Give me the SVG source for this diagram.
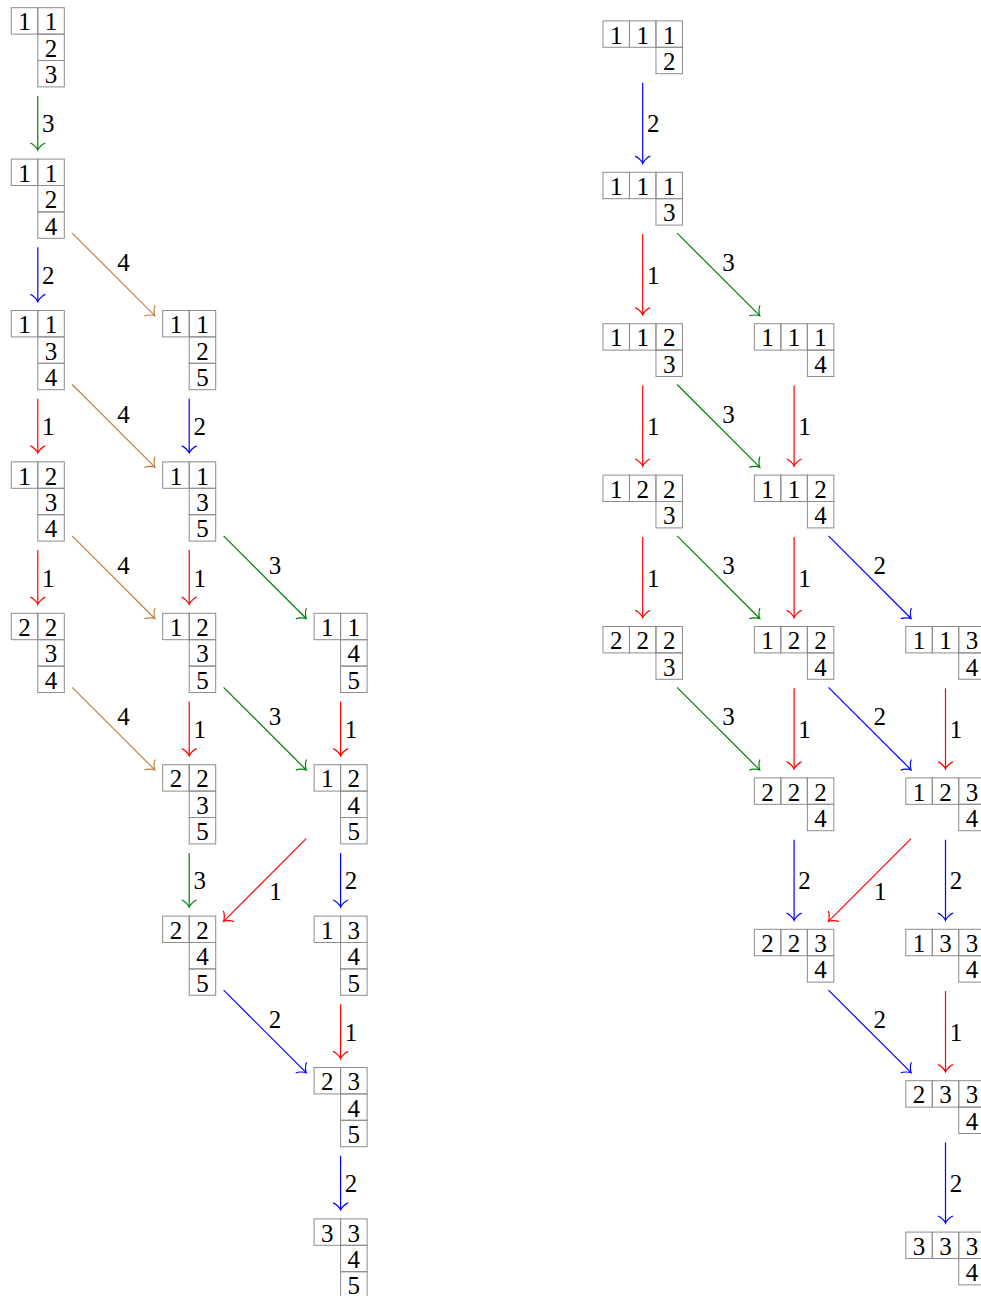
<svg xmlns="http://www.w3.org/2000/svg" xmlns:xlink="http://www.w3.org/1999/xlink" width="981" height="1296" viewBox="0 0 981 1296">
  <style>
    .cell { fill: none; stroke: #8c8c8c; stroke-width: 1; }
    .t { font-family: "Liberation Serif", "DejaVu Serif", serif; font-size: 25px; text-anchor: middle; fill: #000; }
    .e { fill: none; stroke-width: 1.2; }
    .g { stroke: #008000; }
    .b { stroke: #0000ff; }
    .r { stroke: #ff0000; }
    .o { stroke: #bf8040; }
    .g { marker-end: url(#ag); }
    .b { marker-end: url(#ab); }
    .r { marker-end: url(#ar); }
    .o { marker-end: url(#ao); }
  </style>
  <defs>
    <!-- 2 cells on top, then a column of two cells under the right one -->
    <g id="frameL">
      <rect class="cell" x="-26.5" y="-39.6" width="26.5" height="26.4"/>
      <rect class="cell" x="0" y="-39.6" width="26.5" height="26.4"/>
      <rect class="cell" x="0" y="-13.2" width="26.5" height="26.4"/>
      <rect class="cell" x="0" y="13.2" width="26.5" height="26.4"/>
    </g>
    <!-- 3 cells on top, one cell under the rightmost -->
    <g id="frameR">
      <rect class="cell" x="-39.75" y="-26.4" width="26.5" height="26.4"/>
      <rect class="cell" x="-13.25" y="-26.4" width="26.5" height="26.4"/>
      <rect class="cell" x="13.25" y="-26.4" width="26.5" height="26.4"/>
      <rect class="cell" x="13.25" y="0" width="26.5" height="26.4"/>
    </g>
    <marker id="ag" markerUnits="userSpaceOnUse" orient="auto" overflow="visible" markerWidth="1" markerHeight="1" refX="0" refY="0">
      <path d="M-7.1,-7.6 C-6.65,-4.75 -1.43,-0.48 0,0 C-1.43,0.48 -6.65,4.75 -7.1,7.6" fill="none" stroke="#008000" stroke-width="1.2"/>
    </marker>
    <marker id="ab" markerUnits="userSpaceOnUse" orient="auto" overflow="visible" markerWidth="1" markerHeight="1" refX="0" refY="0">
      <path d="M-7.1,-7.6 C-6.65,-4.75 -1.43,-0.48 0,0 C-1.43,0.48 -6.65,4.75 -7.1,7.6" fill="none" stroke="#0000ff" stroke-width="1.2"/>
    </marker>
    <marker id="ar" markerUnits="userSpaceOnUse" orient="auto" overflow="visible" markerWidth="1" markerHeight="1" refX="0" refY="0">
      <path d="M-7.1,-7.6 C-6.65,-4.75 -1.43,-0.48 0,0 C-1.43,0.48 -6.65,4.75 -7.1,7.6" fill="none" stroke="#ff0000" stroke-width="1.2"/>
    </marker>
    <marker id="ao" markerUnits="userSpaceOnUse" orient="auto" overflow="visible" markerWidth="1" markerHeight="1" refX="0" refY="0">
      <path d="M-7.1,-7.6 C-6.65,-4.75 -1.43,-0.48 0,0 C-1.43,0.48 -6.65,4.75 -7.1,7.6" fill="none" stroke="#bf8040" stroke-width="1.2"/>
    </marker>
  </defs>
  <rect width="981" height="1296" fill="#fff"/>

  <!-- Left lattice: tableaux of shape (2,2,2)/(1,1) -->
  <g id="L-0-0" transform="translate(37.8,47.3)"><use xlink:href="#frameL"/>
    <text class="t" x="-13.25" y="-16.9">1</text><text class="t" x="13.25" y="-16.9">1</text><text class="t" x="13.25" y="9.5">2</text><text class="t" x="13.25" y="35.9">3</text></g>
  <g id="L-0-1" transform="translate(37.8,198.7)"><use xlink:href="#frameL"/>
    <text class="t" x="-13.25" y="-16.9">1</text><text class="t" x="13.25" y="-16.9">1</text><text class="t" x="13.25" y="9.5">2</text><text class="t" x="13.25" y="35.9">4</text></g>
  <g id="L-0-2" transform="translate(37.8,350.1)"><use xlink:href="#frameL"/>
    <text class="t" x="-13.25" y="-16.9">1</text><text class="t" x="13.25" y="-16.9">1</text><text class="t" x="13.25" y="9.5">3</text><text class="t" x="13.25" y="35.9">4</text></g>
  <g id="L-1-2" transform="translate(189.2,350.1)"><use xlink:href="#frameL"/>
    <text class="t" x="-13.25" y="-16.9">1</text><text class="t" x="13.25" y="-16.9">1</text><text class="t" x="13.25" y="9.5">2</text><text class="t" x="13.25" y="35.9">5</text></g>
  <g id="L-0-3" transform="translate(37.8,501.5)"><use xlink:href="#frameL"/>
    <text class="t" x="-13.25" y="-16.9">1</text><text class="t" x="13.25" y="-16.9">2</text><text class="t" x="13.25" y="9.5">3</text><text class="t" x="13.25" y="35.9">4</text></g>
  <g id="L-1-3" transform="translate(189.2,501.5)"><use xlink:href="#frameL"/>
    <text class="t" x="-13.25" y="-16.9">1</text><text class="t" x="13.25" y="-16.9">1</text><text class="t" x="13.25" y="9.5">3</text><text class="t" x="13.25" y="35.9">5</text></g>
  <g id="L-0-4" transform="translate(37.8,652.9)"><use xlink:href="#frameL"/>
    <text class="t" x="-13.25" y="-16.9">2</text><text class="t" x="13.25" y="-16.9">2</text><text class="t" x="13.25" y="9.5">3</text><text class="t" x="13.25" y="35.9">4</text></g>
  <g id="L-1-4" transform="translate(189.2,652.9)"><use xlink:href="#frameL"/>
    <text class="t" x="-13.25" y="-16.9">1</text><text class="t" x="13.25" y="-16.9">2</text><text class="t" x="13.25" y="9.5">3</text><text class="t" x="13.25" y="35.9">5</text></g>
  <g id="L-2-4" transform="translate(340.6,652.9)"><use xlink:href="#frameL"/>
    <text class="t" x="-13.25" y="-16.9">1</text><text class="t" x="13.25" y="-16.9">1</text><text class="t" x="13.25" y="9.5">4</text><text class="t" x="13.25" y="35.9">5</text></g>
  <g id="L-1-5" transform="translate(189.2,804.3)"><use xlink:href="#frameL"/>
    <text class="t" x="-13.25" y="-16.9">2</text><text class="t" x="13.25" y="-16.9">2</text><text class="t" x="13.25" y="9.5">3</text><text class="t" x="13.25" y="35.9">5</text></g>
  <g id="L-2-5" transform="translate(340.6,804.3)"><use xlink:href="#frameL"/>
    <text class="t" x="-13.25" y="-16.9">1</text><text class="t" x="13.25" y="-16.9">2</text><text class="t" x="13.25" y="9.5">4</text><text class="t" x="13.25" y="35.9">5</text></g>
  <g id="L-1-6" transform="translate(189.2,955.7)"><use xlink:href="#frameL"/>
    <text class="t" x="-13.25" y="-16.9">2</text><text class="t" x="13.25" y="-16.9">2</text><text class="t" x="13.25" y="9.5">4</text><text class="t" x="13.25" y="35.9">5</text></g>
  <g id="L-2-6" transform="translate(340.6,955.7)"><use xlink:href="#frameL"/>
    <text class="t" x="-13.25" y="-16.9">1</text><text class="t" x="13.25" y="-16.9">3</text><text class="t" x="13.25" y="9.5">4</text><text class="t" x="13.25" y="35.9">5</text></g>
  <g id="L-2-7" transform="translate(340.6,1107.1)"><use xlink:href="#frameL"/>
    <text class="t" x="-13.25" y="-16.9">2</text><text class="t" x="13.25" y="-16.9">3</text><text class="t" x="13.25" y="9.5">4</text><text class="t" x="13.25" y="35.9">5</text></g>
  <g id="L-2-8" transform="translate(340.6,1258.5)"><use xlink:href="#frameL"/>
    <text class="t" x="-13.25" y="-16.9">3</text><text class="t" x="13.25" y="-16.9">3</text><text class="t" x="13.25" y="9.5">4</text><text class="t" x="13.25" y="35.9">5</text></g>

  <!-- Right lattice: tableaux of shape (3,3)/(2) -->
  <g id="R-0-0" transform="translate(642.7,47.3)"><use xlink:href="#frameR"/>
    <text class="t" x="-26.5" y="-3.7">1</text><text class="t" x="0" y="-3.7">1</text><text class="t" x="26.5" y="-3.7">1</text><text class="t" x="26.5" y="22.7">2</text></g>
  <g id="R-0-1" transform="translate(642.7,198.7)"><use xlink:href="#frameR"/>
    <text class="t" x="-26.5" y="-3.7">1</text><text class="t" x="0" y="-3.7">1</text><text class="t" x="26.5" y="-3.7">1</text><text class="t" x="26.5" y="22.7">3</text></g>
  <g id="R-0-2" transform="translate(642.7,350.1)"><use xlink:href="#frameR"/>
    <text class="t" x="-26.5" y="-3.7">1</text><text class="t" x="0" y="-3.7">1</text><text class="t" x="26.5" y="-3.7">2</text><text class="t" x="26.5" y="22.7">3</text></g>
  <g id="R-1-2" transform="translate(794.1,350.1)"><use xlink:href="#frameR"/>
    <text class="t" x="-26.5" y="-3.7">1</text><text class="t" x="0" y="-3.7">1</text><text class="t" x="26.5" y="-3.7">1</text><text class="t" x="26.5" y="22.7">4</text></g>
  <g id="R-0-3" transform="translate(642.7,501.5)"><use xlink:href="#frameR"/>
    <text class="t" x="-26.5" y="-3.7">1</text><text class="t" x="0" y="-3.7">2</text><text class="t" x="26.5" y="-3.7">2</text><text class="t" x="26.5" y="22.7">3</text></g>
  <g id="R-1-3" transform="translate(794.1,501.5)"><use xlink:href="#frameR"/>
    <text class="t" x="-26.5" y="-3.7">1</text><text class="t" x="0" y="-3.7">1</text><text class="t" x="26.5" y="-3.7">2</text><text class="t" x="26.5" y="22.7">4</text></g>
  <g id="R-0-4" transform="translate(642.7,652.9)"><use xlink:href="#frameR"/>
    <text class="t" x="-26.5" y="-3.7">2</text><text class="t" x="0" y="-3.7">2</text><text class="t" x="26.5" y="-3.7">2</text><text class="t" x="26.5" y="22.7">3</text></g>
  <g id="R-1-4" transform="translate(794.1,652.9)"><use xlink:href="#frameR"/>
    <text class="t" x="-26.5" y="-3.7">1</text><text class="t" x="0" y="-3.7">2</text><text class="t" x="26.5" y="-3.7">2</text><text class="t" x="26.5" y="22.7">4</text></g>
  <g id="R-2-4" transform="translate(945.5,652.9)"><use xlink:href="#frameR"/>
    <text class="t" x="-26.5" y="-3.7">1</text><text class="t" x="0" y="-3.7">1</text><text class="t" x="26.5" y="-3.7">3</text><text class="t" x="26.5" y="22.7">4</text></g>
  <g id="R-1-5" transform="translate(794.1,804.3)"><use xlink:href="#frameR"/>
    <text class="t" x="-26.5" y="-3.7">2</text><text class="t" x="0" y="-3.7">2</text><text class="t" x="26.5" y="-3.7">2</text><text class="t" x="26.5" y="22.7">4</text></g>
  <g id="R-2-5" transform="translate(945.5,804.3)"><use xlink:href="#frameR"/>
    <text class="t" x="-26.5" y="-3.7">1</text><text class="t" x="0" y="-3.7">2</text><text class="t" x="26.5" y="-3.7">3</text><text class="t" x="26.5" y="22.7">4</text></g>
  <g id="R-1-6" transform="translate(794.1,955.7)"><use xlink:href="#frameR"/>
    <text class="t" x="-26.5" y="-3.7">2</text><text class="t" x="0" y="-3.7">2</text><text class="t" x="26.5" y="-3.7">3</text><text class="t" x="26.5" y="22.7">4</text></g>
  <g id="R-2-6" transform="translate(945.5,955.7)"><use xlink:href="#frameR"/>
    <text class="t" x="-26.5" y="-3.7">1</text><text class="t" x="0" y="-3.7">3</text><text class="t" x="26.5" y="-3.7">3</text><text class="t" x="26.5" y="22.7">4</text></g>
  <g id="R-2-7" transform="translate(945.5,1107.1)"><use xlink:href="#frameR"/>
    <text class="t" x="-26.5" y="-3.7">2</text><text class="t" x="0" y="-3.7">3</text><text class="t" x="26.5" y="-3.7">3</text><text class="t" x="26.5" y="22.7">4</text></g>
  <g id="R-2-8" transform="translate(945.5,1258.5)"><use xlink:href="#frameR"/>
    <text class="t" x="-26.5" y="-3.7">3</text><text class="t" x="0" y="-3.7">3</text><text class="t" x="26.5" y="-3.7">3</text><text class="t" x="26.5" y="22.7">4</text></g>

  <!-- Connectors with their labels -->
  <g id="connectors">
    <!-- left lattice -->
    <line class="e g" x1="37.8" y1="95.9" x2="37.8" y2="150.1"/><text class="t" x="48.3" y="132.3">3</text>
    <line class="e b" x1="37.8" y1="247.3" x2="37.8" y2="301.5"/><text class="t" x="48.3" y="283.7">2</text>
    <line class="e o" x1="72.2" y1="233.1" x2="154.8" y2="315.7"/><text class="t" x="123.5" y="271.2">4</text>
    <line class="e r" x1="37.8" y1="398.7" x2="37.8" y2="452.9"/><text class="t" x="48.3" y="435.1">1</text>
    <line class="e o" x1="72.2" y1="384.5" x2="154.8" y2="467.1"/><text class="t" x="123.5" y="422.6">4</text>
    <line class="e b" x1="189.2" y1="398.7" x2="189.2" y2="452.9"/><text class="t" x="199.7" y="435.1">2</text>
    <line class="e r" x1="37.8" y1="550.1" x2="37.8" y2="604.3"/><text class="t" x="48.3" y="586.5">1</text>
    <line class="e o" x1="72.2" y1="535.9" x2="154.8" y2="618.5"/><text class="t" x="123.5" y="574">4</text>
    <line class="e r" x1="189.2" y1="550.1" x2="189.2" y2="604.3"/><text class="t" x="199.7" y="586.5">1</text>
    <line class="e g" x1="223.6" y1="535.9" x2="306.2" y2="618.5"/><text class="t" x="274.9" y="574">3</text>
    <line class="e o" x1="72.2" y1="687.3" x2="154.8" y2="769.9"/><text class="t" x="123.5" y="725.4">4</text>
    <line class="e r" x1="189.2" y1="701.5" x2="189.2" y2="755.7"/><text class="t" x="199.7" y="737.9">1</text>
    <line class="e g" x1="223.6" y1="687.3" x2="306.2" y2="769.9"/><text class="t" x="274.9" y="725.4">3</text>
    <line class="e r" x1="340.6" y1="701.5" x2="340.6" y2="755.7"/><text class="t" x="351.1" y="737.9">1</text>
    <line class="e g" x1="189.2" y1="852.9" x2="189.2" y2="907.1"/><text class="t" x="199.7" y="889.3">3</text>
    <line class="e r" x1="306.2" y1="838.7" x2="223.6" y2="921.3"/><text class="t" x="275.4" y="899.8">1</text>
    <line class="e b" x1="340.6" y1="852.9" x2="340.6" y2="907.1"/><text class="t" x="351.1" y="889.3">2</text>
    <line class="e b" x1="223.6" y1="990.1" x2="306.2" y2="1072.7"/><text class="t" x="274.9" y="1028.2">2</text>
    <line class="e r" x1="340.6" y1="1004.3" x2="340.6" y2="1058.5"/><text class="t" x="351.1" y="1040.7">1</text>
    <line class="e b" x1="340.6" y1="1155.7" x2="340.6" y2="1209.9"/><text class="t" x="351.1" y="1192.1">2</text>
    <!-- right lattice -->
    <line class="e b" x1="642.7" y1="82.7" x2="642.7" y2="163.3"/><text class="t" x="653.2" y="132.3">2</text>
    <line class="e r" x1="642.7" y1="234.1" x2="642.7" y2="314.7"/><text class="t" x="653.2" y="283.7">1</text>
    <line class="e g" x1="677.1" y1="233.1" x2="759.7" y2="315.7"/><text class="t" x="728.4" y="271.2">3</text>
    <line class="e r" x1="642.7" y1="385.5" x2="642.7" y2="466.1"/><text class="t" x="653.2" y="435.1">1</text>
    <line class="e g" x1="677.1" y1="384.5" x2="759.7" y2="467.1"/><text class="t" x="728.4" y="422.6">3</text>
    <line class="e r" x1="794.1" y1="385.5" x2="794.1" y2="466.1"/><text class="t" x="804.6" y="435.1">1</text>
    <line class="e r" x1="642.7" y1="536.9" x2="642.7" y2="617.5"/><text class="t" x="653.2" y="586.5">1</text>
    <line class="e g" x1="677.1" y1="535.9" x2="759.7" y2="618.5"/><text class="t" x="728.4" y="574">3</text>
    <line class="e r" x1="794.1" y1="536.9" x2="794.1" y2="617.5"/><text class="t" x="804.6" y="586.5">1</text>
    <line class="e b" x1="828.5" y1="535.9" x2="911.1" y2="618.5"/><text class="t" x="879.8" y="574">2</text>
    <line class="e g" x1="677.1" y1="687.3" x2="759.7" y2="769.9"/><text class="t" x="728.4" y="725.4">3</text>
    <line class="e r" x1="794.1" y1="688.3" x2="794.1" y2="768.9"/><text class="t" x="804.6" y="737.9">1</text>
    <line class="e b" x1="828.5" y1="687.3" x2="911.1" y2="769.9"/><text class="t" x="879.8" y="725.4">2</text>
    <line class="e r" x1="945.5" y1="688.3" x2="945.5" y2="768.9"/><text class="t" x="956" y="737.9">1</text>
    <line class="e b" x1="794.1" y1="839.7" x2="794.1" y2="920.3"/><text class="t" x="804.6" y="889.3">2</text>
    <line class="e r" x1="911.1" y1="838.7" x2="828.5" y2="921.3"/><text class="t" x="880.3" y="899.8">1</text>
    <line class="e b" x1="945.5" y1="839.7" x2="945.5" y2="920.3"/><text class="t" x="956" y="889.3">2</text>
    <line class="e b" x1="828.5" y1="990.1" x2="911.1" y2="1072.7"/><text class="t" x="879.8" y="1028.2">2</text>
    <line class="e r" x1="945.5" y1="991.1" x2="945.5" y2="1071.7"/><text class="t" x="956" y="1040.7">1</text>
    <line class="e b" x1="945.5" y1="1142.5" x2="945.5" y2="1223.1"/><text class="t" x="956" y="1192.1">2</text>
  </g>
</svg>
